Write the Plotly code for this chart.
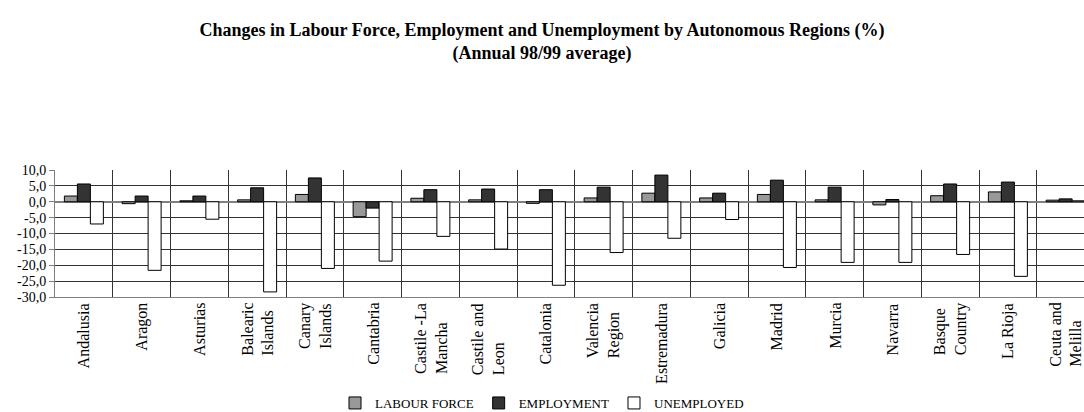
import plotly.graph_objects as go

# Autonomous regions (two-line labels use <br>)
regions = [
    "Andalusia", "Aragon", "Asturias", "Balearic<br>Islands", "Canary<br>Islands",
    "Cantabria", "Castile -La<br>Mancha", "Castile and<br>Leon", "Catalonia",
    "Valencia<br>Region", "Estremadura", "Galicia", "Madrid", "Murcia", "Navarra",
    "Basque<br>Country", "La Rioja", "Ceuta and<br>Melilla",
]

# Annual 98/99 average change, %
labour_force = [1.8, -0.6, 0.3, 0.6, 2.3, -4.7, 1.1, 0.6, -0.5, 1.2,
                2.7, 1.2, 2.3, 0.6, -1.0, 1.9, 3.1, 0.5]
employment = [5.6, 1.8, 1.8, 4.4, 7.5, -2.0, 3.8, 4.0, 3.8, 4.6,
              8.4, 2.7, 6.8, 4.6, 0.7, 5.6, 6.2, 0.9]
unemployed = [-7.0, -21.6, -5.5, -28.4, -21.0, -18.7, -10.9, -14.9, -26.3, -16.0,
              -11.5, -5.6, -20.7, -19.1, -19.1, -16.6, -23.5, 0.3]

y_ticks = [10, 5, 0, -5, -10, -15, -20, -25, -30]
y_tick_text = ["10,0", "5,0", "0,0", "-5,0", "-10,0", "-15,0", "-20,0", "-25,0", "-30,0"]

FONT = "Liberation Serif"
x_pos = list(range(len(regions)))

fig = go.Figure()
for name, values, color in [
    ("LABOUR FORCE", labour_force, "#999999"),
    ("EMPLOYMENT", employment, "#333333"),
    ("UNEMPLOYED", unemployed, "#ffffff"),
]:
    fig.add_trace(go.Bar(
        x=x_pos, y=values, name=name,
        marker=dict(color=color, line=dict(color="#000000", width=1)),
    ))

# Region names under each group, rotated, lines aligned at their start
for i, label in enumerate(regions):
    fig.add_annotation(
        x=i, y=0, xref="x", yref="paper",
        text=label, textangle=-90, showarrow=False,
        xanchor="center", yanchor="top", yshift=-4, align="left",
        font=dict(family=FONT, size=16, color="#000000"),
    )

fig.update_layout(
    width=1084, height=412,
    margin=dict(l=55, r=0, t=170, b=115),
    paper_bgcolor="#ffffff", plot_bgcolor="#ffffff",
    barmode="group", bargap=0.325, bargroupgap=0,
    font=dict(family=FONT, color="#000000"),
    title=dict(
        text="<b>Changes in Labour Force, Employment and Unemployment by Autonomous Regions (%)"
             "<br>(Annual 98/99 average)</b>",
        x=0.5, xref="container", xanchor="center",
        y=1 - 36 / 412, yref="container", yanchor="top",
        font=dict(family=FONT, size=18, color="#000000"),
    ),
    legend=dict(
        orientation="h", x=0.5, xref="container", xanchor="center",
        y=9 / 412, yref="container", yanchor="middle",
        font=dict(family=FONT, size=13, color="#000000"),
        itemwidth=30, traceorder="normal",
    ),
    xaxis=dict(
        range=[-0.5, 17.318], showticklabels=False, showgrid=False,
        zeroline=False, showline=True, linecolor="#808080", linewidth=1,
        ticks="", fixedrange=True,
        minor=dict(tick0=-0.5, dtick=1, showgrid=True, gridcolor="#333333",
                   gridwidth=1, ticks=""),
    ),
    yaxis=dict(
        range=[-30, 10], tickvals=y_ticks, ticktext=y_tick_text,
        showgrid=True, gridcolor="#333333", gridwidth=1,
        zeroline=True, zerolinecolor="#808080", zerolinewidth=2,
        showline=True, linecolor="#808080", linewidth=1,
        ticks="outside", ticklen=5, tickcolor="#808080",
        tickfont=dict(family=FONT, size=14, color="#000000"),
    ),
)

fig.write_html("out.html")
